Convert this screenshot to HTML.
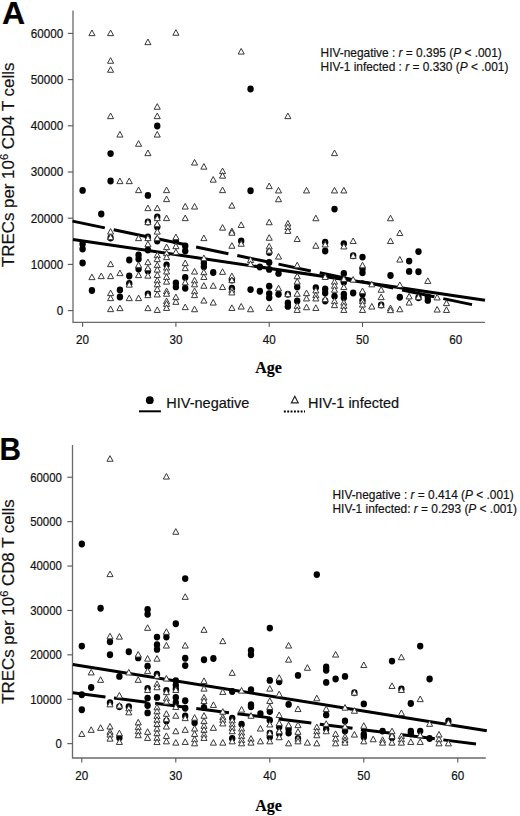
<!DOCTYPE html>
<html><head><meta charset="utf-8"><style>
html,body{margin:0;padding:0;background:#fff;}
svg{display:block;}
text{font-family:"Liberation Sans", sans-serif;fill:#111;stroke:#111;stroke-width:0.18px;}
.tk{font-size:11.4px;}
.an{font-size:11.9px;}
.lg{font-size:14.5px;}
.yl{font-size:16.9px;}
.lt{font-size:32px;font-weight:bold;fill:#000;}
.age{font-family:"Liberation Serif", serif;font-size:16px;font-weight:bold;fill:#000;}
</style></head><body>
<svg width="520" height="816" viewBox="0 0 520 816">
<rect width="520" height="816" fill="#fff"/>
<path d="M73.0 10.5V322.4H485.0" fill="none" stroke="#6a6a6a" stroke-width="1.3"/>
<line x1="67.8" y1="310.60" x2="73.0" y2="310.60" stroke="#555" stroke-width="1.1"/>
<text transform="translate(63.2 314.95) scale(1.025 1.15)" text-anchor="end" class="tk">0</text>
<line x1="67.8" y1="264.40" x2="73.0" y2="264.40" stroke="#555" stroke-width="1.1"/>
<text transform="translate(63.2 268.75) scale(1.025 1.15)" text-anchor="end" class="tk">10000</text>
<line x1="67.8" y1="218.20" x2="73.0" y2="218.20" stroke="#555" stroke-width="1.1"/>
<text transform="translate(63.2 222.55) scale(1.025 1.15)" text-anchor="end" class="tk">20000</text>
<line x1="67.8" y1="172.00" x2="73.0" y2="172.00" stroke="#555" stroke-width="1.1"/>
<text transform="translate(63.2 176.35) scale(1.025 1.15)" text-anchor="end" class="tk">30000</text>
<line x1="67.8" y1="125.80" x2="73.0" y2="125.80" stroke="#555" stroke-width="1.1"/>
<text transform="translate(63.2 130.15) scale(1.025 1.15)" text-anchor="end" class="tk">40000</text>
<line x1="67.8" y1="79.60" x2="73.0" y2="79.60" stroke="#555" stroke-width="1.1"/>
<text transform="translate(63.2 83.95) scale(1.025 1.15)" text-anchor="end" class="tk">50000</text>
<line x1="67.8" y1="33.40" x2="73.0" y2="33.40" stroke="#555" stroke-width="1.1"/>
<text transform="translate(63.2 37.75) scale(1.025 1.15)" text-anchor="end" class="tk">60000</text>
<line x1="82.60" y1="322.4" x2="82.60" y2="326.79999999999995" stroke="#555" stroke-width="1.1"/>
<text transform="translate(82.60 344.20) scale(1.025 1.15)" text-anchor="middle" class="tk">20</text>
<line x1="175.90" y1="322.4" x2="175.90" y2="326.79999999999995" stroke="#555" stroke-width="1.1"/>
<text transform="translate(175.90 344.20) scale(1.025 1.15)" text-anchor="middle" class="tk">30</text>
<line x1="269.20" y1="322.4" x2="269.20" y2="326.79999999999995" stroke="#555" stroke-width="1.1"/>
<text transform="translate(269.20 344.20) scale(1.025 1.15)" text-anchor="middle" class="tk">40</text>
<line x1="362.50" y1="322.4" x2="362.50" y2="326.79999999999995" stroke="#555" stroke-width="1.1"/>
<text transform="translate(362.50 344.20) scale(1.025 1.15)" text-anchor="middle" class="tk">50</text>
<text transform="translate(455.80 344.20) scale(1.025 1.15)" text-anchor="middle" class="tk">60</text>
<line x1="73" y1="239.4" x2="485" y2="300.2" stroke="#000" stroke-width="3"/>
<line x1="72.5" y1="221.1" x2="472" y2="304.6" stroke="#000" stroke-width="3" stroke-dasharray="33.0 9.09"/>
<ellipse cx="250.54" cy="89.0" rx="3.2" ry="3.45" fill="#000"/>
<ellipse cx="157.24" cy="126.0" rx="3.2" ry="3.45" fill="#000"/>
<ellipse cx="110.59" cy="153.6" rx="3.2" ry="3.45" fill="#000"/>
<ellipse cx="82.6" cy="190.4" rx="3.2" ry="3.45" fill="#000"/>
<ellipse cx="110.59" cy="181.0" rx="3.2" ry="3.45" fill="#000"/>
<ellipse cx="147.91" cy="195.4" rx="3.2" ry="3.45" fill="#000"/>
<ellipse cx="101.26" cy="214.0" rx="3.2" ry="3.45" fill="#000"/>
<ellipse cx="110.59" cy="238.0" rx="3.2" ry="3.45" fill="#000"/>
<ellipse cx="82.6" cy="244.0" rx="3.2" ry="3.45" fill="#000"/>
<ellipse cx="82.6" cy="249.0" rx="3.2" ry="3.45" fill="#000"/>
<ellipse cx="82.6" cy="263.0" rx="3.2" ry="3.45" fill="#000"/>
<ellipse cx="129.25" cy="260.0" rx="3.2" ry="3.45" fill="#000"/>
<ellipse cx="138.58" cy="255.0" rx="3.2" ry="3.45" fill="#000"/>
<ellipse cx="138.58" cy="259.0" rx="3.2" ry="3.45" fill="#000"/>
<ellipse cx="129.25" cy="276.0" rx="3.2" ry="3.45" fill="#000"/>
<ellipse cx="138.58" cy="269.0" rx="3.2" ry="3.45" fill="#000"/>
<ellipse cx="91.93" cy="290.5" rx="3.2" ry="3.45" fill="#000"/>
<ellipse cx="119.92" cy="290.0" rx="3.2" ry="3.45" fill="#000"/>
<ellipse cx="119.92" cy="297.0" rx="3.2" ry="3.45" fill="#000"/>
<ellipse cx="147.91" cy="222.0" rx="3.2" ry="3.45" fill="#000"/>
<ellipse cx="147.91" cy="237.0" rx="3.2" ry="3.45" fill="#000"/>
<ellipse cx="147.91" cy="250.0" rx="3.2" ry="3.45" fill="#000"/>
<ellipse cx="157.24" cy="217.0" rx="3.2" ry="3.45" fill="#000"/>
<ellipse cx="157.24" cy="227.0" rx="3.2" ry="3.45" fill="#000"/>
<ellipse cx="157.24" cy="241.0" rx="3.2" ry="3.45" fill="#000"/>
<ellipse cx="166.57" cy="265.0" rx="3.2" ry="3.45" fill="#000"/>
<ellipse cx="175.9" cy="241.0" rx="3.2" ry="3.45" fill="#000"/>
<ellipse cx="185.23" cy="246.0" rx="3.2" ry="3.45" fill="#000"/>
<ellipse cx="185.23" cy="251.0" rx="3.2" ry="3.45" fill="#000"/>
<ellipse cx="203.89" cy="263.0" rx="3.2" ry="3.45" fill="#000"/>
<ellipse cx="147.91" cy="271.0" rx="3.2" ry="3.45" fill="#000"/>
<ellipse cx="147.91" cy="294.0" rx="3.2" ry="3.45" fill="#000"/>
<ellipse cx="175.9" cy="282.9" rx="3.2" ry="3.45" fill="#000"/>
<ellipse cx="175.9" cy="286.9" rx="3.2" ry="3.45" fill="#000"/>
<ellipse cx="185.23" cy="277.5" rx="3.2" ry="3.45" fill="#000"/>
<ellipse cx="185.23" cy="288.2" rx="3.2" ry="3.45" fill="#000"/>
<ellipse cx="203.89" cy="266.7" rx="3.2" ry="3.45" fill="#000"/>
<ellipse cx="250.54" cy="190.7" rx="3.2" ry="3.45" fill="#000"/>
<ellipse cx="241.21" cy="240.9" rx="3.2" ry="3.45" fill="#000"/>
<ellipse cx="269.2" cy="252.5" rx="3.2" ry="3.45" fill="#000"/>
<ellipse cx="269.2" cy="262.5" rx="3.2" ry="3.45" fill="#000"/>
<ellipse cx="213.22" cy="272.5" rx="3.2" ry="3.45" fill="#000"/>
<ellipse cx="231.88" cy="280.0" rx="3.2" ry="3.45" fill="#000"/>
<ellipse cx="231.88" cy="288.2" rx="3.2" ry="3.45" fill="#000"/>
<ellipse cx="250.54" cy="289.6" rx="3.2" ry="3.45" fill="#000"/>
<ellipse cx="259.87" cy="291.3" rx="3.2" ry="3.45" fill="#000"/>
<ellipse cx="269.2" cy="286.2" rx="3.2" ry="3.45" fill="#000"/>
<ellipse cx="269.2" cy="293.6" rx="3.2" ry="3.45" fill="#000"/>
<ellipse cx="269.2" cy="297.7" rx="3.2" ry="3.45" fill="#000"/>
<ellipse cx="259.87" cy="267.0" rx="3.2" ry="3.45" fill="#000"/>
<ellipse cx="269.2" cy="269.4" rx="3.2" ry="3.45" fill="#000"/>
<ellipse cx="334.51" cy="209.1" rx="3.2" ry="3.45" fill="#000"/>
<ellipse cx="325.18" cy="242.3" rx="3.2" ry="3.45" fill="#000"/>
<ellipse cx="325.18" cy="251.0" rx="3.2" ry="3.45" fill="#000"/>
<ellipse cx="343.84" cy="243.6" rx="3.2" ry="3.45" fill="#000"/>
<ellipse cx="278.53" cy="273.4" rx="3.2" ry="3.45" fill="#000"/>
<ellipse cx="297.19" cy="286.9" rx="3.2" ry="3.45" fill="#000"/>
<ellipse cx="297.19" cy="301.0" rx="3.2" ry="3.45" fill="#000"/>
<ellipse cx="278.53" cy="294.3" rx="3.2" ry="3.45" fill="#000"/>
<ellipse cx="287.86" cy="294.3" rx="3.2" ry="3.45" fill="#000"/>
<ellipse cx="287.86" cy="303.0" rx="3.2" ry="3.45" fill="#000"/>
<ellipse cx="287.86" cy="306.4" rx="3.2" ry="3.45" fill="#000"/>
<ellipse cx="315.85" cy="287.6" rx="3.2" ry="3.45" fill="#000"/>
<ellipse cx="325.18" cy="288.9" rx="3.2" ry="3.45" fill="#000"/>
<ellipse cx="325.18" cy="293.0" rx="3.2" ry="3.45" fill="#000"/>
<ellipse cx="325.18" cy="301.0" rx="3.2" ry="3.45" fill="#000"/>
<ellipse cx="334.51" cy="296.3" rx="3.2" ry="3.45" fill="#000"/>
<ellipse cx="353.17" cy="255.7" rx="3.2" ry="3.45" fill="#000"/>
<ellipse cx="362.5" cy="257.1" rx="3.2" ry="3.45" fill="#000"/>
<ellipse cx="409.15" cy="261.1" rx="3.2" ry="3.45" fill="#000"/>
<ellipse cx="362.5" cy="268.7" rx="3.2" ry="3.45" fill="#000"/>
<ellipse cx="362.5" cy="272.8" rx="3.2" ry="3.45" fill="#000"/>
<ellipse cx="343.84" cy="273.4" rx="3.2" ry="3.45" fill="#000"/>
<ellipse cx="343.84" cy="282.2" rx="3.2" ry="3.45" fill="#000"/>
<ellipse cx="353.17" cy="293.0" rx="3.2" ry="3.45" fill="#000"/>
<ellipse cx="390.49" cy="275.5" rx="3.2" ry="3.45" fill="#000"/>
<ellipse cx="362.5" cy="294.3" rx="3.2" ry="3.45" fill="#000"/>
<ellipse cx="343.84" cy="294.3" rx="3.2" ry="3.45" fill="#000"/>
<ellipse cx="343.84" cy="297.7" rx="3.2" ry="3.45" fill="#000"/>
<ellipse cx="381.16" cy="305.0" rx="3.2" ry="3.45" fill="#000"/>
<ellipse cx="399.82" cy="297.3" rx="3.2" ry="3.45" fill="#000"/>
<ellipse cx="409.15" cy="271.4" rx="3.2" ry="3.45" fill="#000"/>
<ellipse cx="418.48" cy="251.6" rx="3.2" ry="3.45" fill="#000"/>
<ellipse cx="418.48" cy="271.7" rx="3.2" ry="3.45" fill="#000"/>
<ellipse cx="418.48" cy="297.7" rx="3.2" ry="3.45" fill="#000"/>
<ellipse cx="427.81" cy="297.0" rx="3.2" ry="3.45" fill="#000"/>
<ellipse cx="427.81" cy="300.4" rx="3.2" ry="3.45" fill="#000"/>
<ellipse cx="129.25" cy="283.5" rx="3.2" ry="3.45" fill="#000"/>
<ellipse cx="362.5" cy="300.5" rx="3.2" ry="3.45" fill="#000"/>
<path d="M91.93 30.05L94.98 35.65H88.88Z" fill="#fff" stroke="#383838" stroke-width="1.0" stroke-linejoin="miter"/>
<path d="M110.59 30.05L113.64 35.65H107.54Z" fill="#fff" stroke="#383838" stroke-width="1.0" stroke-linejoin="miter"/>
<path d="M147.91 39.05L150.96 44.65H144.86Z" fill="#fff" stroke="#383838" stroke-width="1.0" stroke-linejoin="miter"/>
<path d="M110.59 57.65L113.64 63.25H107.54Z" fill="#fff" stroke="#383838" stroke-width="1.0" stroke-linejoin="miter"/>
<path d="M110.59 66.65L113.64 72.25H107.54Z" fill="#fff" stroke="#383838" stroke-width="1.0" stroke-linejoin="miter"/>
<path d="M175.9 29.65L178.95 35.25H172.85Z" fill="#fff" stroke="#383838" stroke-width="1.0" stroke-linejoin="miter"/>
<path d="M241.21 48.45L244.26 54.05H238.16Z" fill="#fff" stroke="#383838" stroke-width="1.0" stroke-linejoin="miter"/>
<path d="M110.59 113.05L113.64 118.65H107.54Z" fill="#fff" stroke="#383838" stroke-width="1.0" stroke-linejoin="miter"/>
<path d="M157.24 103.65L160.29 109.25H154.19Z" fill="#fff" stroke="#383838" stroke-width="1.0" stroke-linejoin="miter"/>
<path d="M157.24 113.05L160.29 118.65H154.19Z" fill="#fff" stroke="#383838" stroke-width="1.0" stroke-linejoin="miter"/>
<path d="M157.24 131.45L160.29 137.05H154.19Z" fill="#fff" stroke="#383838" stroke-width="1.0" stroke-linejoin="miter"/>
<path d="M119.92 131.45L122.97 137.05H116.87Z" fill="#fff" stroke="#383838" stroke-width="1.0" stroke-linejoin="miter"/>
<path d="M138.58 140.65L141.63 146.25H135.53Z" fill="#fff" stroke="#383838" stroke-width="1.0" stroke-linejoin="miter"/>
<path d="M147.91 150.05L150.96 155.65H144.86Z" fill="#fff" stroke="#383838" stroke-width="1.0" stroke-linejoin="miter"/>
<path d="M287.86 113.05L290.91 118.65H284.81Z" fill="#fff" stroke="#383838" stroke-width="1.0" stroke-linejoin="miter"/>
<path d="M334.51 150.05L337.56 155.65H331.46Z" fill="#fff" stroke="#383838" stroke-width="1.0" stroke-linejoin="miter"/>
<path d="M119.92 178.05L122.97 183.65H116.87Z" fill="#fff" stroke="#383838" stroke-width="1.0" stroke-linejoin="miter"/>
<path d="M129.25 178.05L132.30 183.65H126.20Z" fill="#fff" stroke="#383838" stroke-width="1.0" stroke-linejoin="miter"/>
<path d="M138.58 187.05L141.63 192.65H135.53Z" fill="#fff" stroke="#383838" stroke-width="1.0" stroke-linejoin="miter"/>
<path d="M166.57 187.05L169.62 192.65H163.52Z" fill="#fff" stroke="#383838" stroke-width="1.0" stroke-linejoin="miter"/>
<path d="M166.57 196.05L169.62 201.65H163.52Z" fill="#fff" stroke="#383838" stroke-width="1.0" stroke-linejoin="miter"/>
<path d="M147.91 205.05L150.96 210.65H144.86Z" fill="#fff" stroke="#383838" stroke-width="1.0" stroke-linejoin="miter"/>
<path d="M157.24 205.05L160.29 210.65H154.19Z" fill="#fff" stroke="#383838" stroke-width="1.0" stroke-linejoin="miter"/>
<path d="M166.57 215.05L169.62 220.65H163.52Z" fill="#fff" stroke="#383838" stroke-width="1.0" stroke-linejoin="miter"/>
<path d="M194.56 159.45L197.61 165.05H191.51Z" fill="#fff" stroke="#383838" stroke-width="1.0" stroke-linejoin="miter"/>
<path d="M203.89 163.55L206.94 169.15H200.84Z" fill="#fff" stroke="#383838" stroke-width="1.0" stroke-linejoin="miter"/>
<path d="M185.23 203.45L188.28 209.05H182.18Z" fill="#fff" stroke="#383838" stroke-width="1.0" stroke-linejoin="miter"/>
<path d="M194.56 203.45L197.61 209.05H191.51Z" fill="#fff" stroke="#383838" stroke-width="1.0" stroke-linejoin="miter"/>
<path d="M110.59 228.55L113.64 234.15H107.54Z" fill="#fff" stroke="#383838" stroke-width="1.0" stroke-linejoin="miter"/>
<path d="M110.59 234.05L113.64 239.65H107.54Z" fill="#fff" stroke="#383838" stroke-width="1.0" stroke-linejoin="miter"/>
<path d="M138.58 235.05L141.63 240.65H135.53Z" fill="#fff" stroke="#383838" stroke-width="1.0" stroke-linejoin="miter"/>
<path d="M110.59 261.05L113.64 266.65H107.54Z" fill="#fff" stroke="#383838" stroke-width="1.0" stroke-linejoin="miter"/>
<path d="M138.58 262.05L141.63 267.65H135.53Z" fill="#fff" stroke="#383838" stroke-width="1.0" stroke-linejoin="miter"/>
<path d="M91.93 274.05L94.98 279.65H88.88Z" fill="#fff" stroke="#383838" stroke-width="1.0" stroke-linejoin="miter"/>
<path d="M101.26 273.05L104.31 278.65H98.21Z" fill="#fff" stroke="#383838" stroke-width="1.0" stroke-linejoin="miter"/>
<path d="M110.59 273.05L113.64 278.65H107.54Z" fill="#fff" stroke="#383838" stroke-width="1.0" stroke-linejoin="miter"/>
<path d="M119.92 270.05L122.97 275.65H116.87Z" fill="#fff" stroke="#383838" stroke-width="1.0" stroke-linejoin="miter"/>
<path d="M129.25 281.55L132.30 287.15H126.20Z" fill="#fff" stroke="#383838" stroke-width="1.0" stroke-linejoin="miter"/>
<path d="M138.58 272.05L141.63 277.65H135.53Z" fill="#fff" stroke="#383838" stroke-width="1.0" stroke-linejoin="miter"/>
<path d="M110.59 290.05L113.64 295.65H107.54Z" fill="#fff" stroke="#383838" stroke-width="1.0" stroke-linejoin="miter"/>
<path d="M110.59 295.05L113.64 300.65H107.54Z" fill="#fff" stroke="#383838" stroke-width="1.0" stroke-linejoin="miter"/>
<path d="M129.25 295.05L132.30 300.65H126.20Z" fill="#fff" stroke="#383838" stroke-width="1.0" stroke-linejoin="miter"/>
<path d="M138.58 295.05L141.63 300.65H135.53Z" fill="#fff" stroke="#383838" stroke-width="1.0" stroke-linejoin="miter"/>
<path d="M110.59 306.05L113.64 311.65H107.54Z" fill="#fff" stroke="#383838" stroke-width="1.0" stroke-linejoin="miter"/>
<path d="M119.92 305.05L122.97 310.65H116.87Z" fill="#fff" stroke="#383838" stroke-width="1.0" stroke-linejoin="miter"/>
<path d="M147.91 219.05L150.96 224.65H144.86Z" fill="#fff" stroke="#383838" stroke-width="1.0" stroke-linejoin="miter"/>
<path d="M147.91 235.05L150.96 240.65H144.86Z" fill="#fff" stroke="#383838" stroke-width="1.0" stroke-linejoin="miter"/>
<path d="M147.91 241.05L150.96 246.65H144.86Z" fill="#fff" stroke="#383838" stroke-width="1.0" stroke-linejoin="miter"/>
<path d="M147.91 259.05L150.96 264.65H144.86Z" fill="#fff" stroke="#383838" stroke-width="1.0" stroke-linejoin="miter"/>
<path d="M157.24 215.05L160.29 220.65H154.19Z" fill="#fff" stroke="#383838" stroke-width="1.0" stroke-linejoin="miter"/>
<path d="M157.24 221.05L160.29 226.65H154.19Z" fill="#fff" stroke="#383838" stroke-width="1.0" stroke-linejoin="miter"/>
<path d="M157.24 228.55L160.29 234.15H154.19Z" fill="#fff" stroke="#383838" stroke-width="1.0" stroke-linejoin="miter"/>
<path d="M157.24 235.05L160.29 240.65H154.19Z" fill="#fff" stroke="#383838" stroke-width="1.0" stroke-linejoin="miter"/>
<path d="M157.24 252.05L160.29 257.65H154.19Z" fill="#fff" stroke="#383838" stroke-width="1.0" stroke-linejoin="miter"/>
<path d="M157.24 256.05L160.29 261.65H154.19Z" fill="#fff" stroke="#383838" stroke-width="1.0" stroke-linejoin="miter"/>
<path d="M157.24 262.05L160.29 267.65H154.19Z" fill="#fff" stroke="#383838" stroke-width="1.0" stroke-linejoin="miter"/>
<path d="M166.57 244.05L169.62 249.65H163.52Z" fill="#fff" stroke="#383838" stroke-width="1.0" stroke-linejoin="miter"/>
<path d="M166.57 250.05L169.62 255.65H163.52Z" fill="#fff" stroke="#383838" stroke-width="1.0" stroke-linejoin="miter"/>
<path d="M166.57 254.05L169.62 259.65H163.52Z" fill="#fff" stroke="#383838" stroke-width="1.0" stroke-linejoin="miter"/>
<path d="M175.9 234.05L178.95 239.65H172.85Z" fill="#fff" stroke="#383838" stroke-width="1.0" stroke-linejoin="miter"/>
<path d="M175.9 243.05L178.95 248.65H172.85Z" fill="#fff" stroke="#383838" stroke-width="1.0" stroke-linejoin="miter"/>
<path d="M175.9 249.05L178.95 254.65H172.85Z" fill="#fff" stroke="#383838" stroke-width="1.0" stroke-linejoin="miter"/>
<path d="M185.23 215.05L188.28 220.65H182.18Z" fill="#fff" stroke="#383838" stroke-width="1.0" stroke-linejoin="miter"/>
<path d="M185.23 260.05L188.28 265.65H182.18Z" fill="#fff" stroke="#383838" stroke-width="1.0" stroke-linejoin="miter"/>
<path d="M203.89 235.05L206.94 240.65H200.84Z" fill="#fff" stroke="#383838" stroke-width="1.0" stroke-linejoin="miter"/>
<path d="M203.89 255.05L206.94 260.65H200.84Z" fill="#fff" stroke="#383838" stroke-width="1.0" stroke-linejoin="miter"/>
<path d="M147.91 265.05L150.96 270.65H144.86Z" fill="#fff" stroke="#383838" stroke-width="1.0" stroke-linejoin="miter"/>
<path d="M147.91 272.55L150.96 278.15H144.86Z" fill="#fff" stroke="#383838" stroke-width="1.0" stroke-linejoin="miter"/>
<path d="M147.91 292.05L150.96 297.65H144.86Z" fill="#fff" stroke="#383838" stroke-width="1.0" stroke-linejoin="miter"/>
<path d="M147.91 305.05L150.96 310.65H144.86Z" fill="#fff" stroke="#383838" stroke-width="1.0" stroke-linejoin="miter"/>
<path d="M157.24 266.55L160.29 272.15H154.19Z" fill="#fff" stroke="#383838" stroke-width="1.0" stroke-linejoin="miter"/>
<path d="M157.24 271.85L160.29 277.45H154.19Z" fill="#fff" stroke="#383838" stroke-width="1.0" stroke-linejoin="miter"/>
<path d="M157.24 277.25L160.29 282.85H154.19Z" fill="#fff" stroke="#383838" stroke-width="1.0" stroke-linejoin="miter"/>
<path d="M157.24 281.25L160.29 286.85H154.19Z" fill="#fff" stroke="#383838" stroke-width="1.0" stroke-linejoin="miter"/>
<path d="M157.24 285.95L160.29 291.55H154.19Z" fill="#fff" stroke="#383838" stroke-width="1.0" stroke-linejoin="miter"/>
<path d="M157.24 291.35L160.29 296.95H154.19Z" fill="#fff" stroke="#383838" stroke-width="1.0" stroke-linejoin="miter"/>
<path d="M157.24 306.85L160.29 312.45H154.19Z" fill="#fff" stroke="#383838" stroke-width="1.0" stroke-linejoin="miter"/>
<path d="M166.57 264.45L169.62 270.05H163.52Z" fill="#fff" stroke="#383838" stroke-width="1.0" stroke-linejoin="miter"/>
<path d="M166.57 268.45L169.62 274.05H163.52Z" fill="#fff" stroke="#383838" stroke-width="1.0" stroke-linejoin="miter"/>
<path d="M166.57 273.85L169.62 279.45H163.52Z" fill="#fff" stroke="#383838" stroke-width="1.0" stroke-linejoin="miter"/>
<path d="M166.57 278.55L169.62 284.15H163.52Z" fill="#fff" stroke="#383838" stroke-width="1.0" stroke-linejoin="miter"/>
<path d="M166.57 288.05L169.62 293.65H163.52Z" fill="#fff" stroke="#383838" stroke-width="1.0" stroke-linejoin="miter"/>
<path d="M166.57 290.65L169.62 296.25H163.52Z" fill="#fff" stroke="#383838" stroke-width="1.0" stroke-linejoin="miter"/>
<path d="M166.57 298.05L169.62 303.65H163.52Z" fill="#fff" stroke="#383838" stroke-width="1.0" stroke-linejoin="miter"/>
<path d="M166.57 300.75L169.62 306.35H163.52Z" fill="#fff" stroke="#383838" stroke-width="1.0" stroke-linejoin="miter"/>
<path d="M166.57 304.85L169.62 310.45H163.52Z" fill="#fff" stroke="#383838" stroke-width="1.0" stroke-linejoin="miter"/>
<path d="M175.9 294.05L178.95 299.65H172.85Z" fill="#fff" stroke="#383838" stroke-width="1.0" stroke-linejoin="miter"/>
<path d="M175.9 298.75L178.95 304.35H172.85Z" fill="#fff" stroke="#383838" stroke-width="1.0" stroke-linejoin="miter"/>
<path d="M185.23 265.05L188.28 270.65H182.18Z" fill="#fff" stroke="#383838" stroke-width="1.0" stroke-linejoin="miter"/>
<path d="M185.23 279.25L188.28 284.85H182.18Z" fill="#fff" stroke="#383838" stroke-width="1.0" stroke-linejoin="miter"/>
<path d="M185.23 304.05L188.28 309.65H182.18Z" fill="#fff" stroke="#383838" stroke-width="1.0" stroke-linejoin="miter"/>
<path d="M194.56 268.45L197.61 274.05H191.51Z" fill="#fff" stroke="#383838" stroke-width="1.0" stroke-linejoin="miter"/>
<path d="M194.56 277.25L197.61 282.85H191.51Z" fill="#fff" stroke="#383838" stroke-width="1.0" stroke-linejoin="miter"/>
<path d="M194.56 281.25L197.61 286.85H191.51Z" fill="#fff" stroke="#383838" stroke-width="1.0" stroke-linejoin="miter"/>
<path d="M194.56 288.05L197.61 293.65H191.51Z" fill="#fff" stroke="#383838" stroke-width="1.0" stroke-linejoin="miter"/>
<path d="M194.56 292.05L197.61 297.65H191.51Z" fill="#fff" stroke="#383838" stroke-width="1.0" stroke-linejoin="miter"/>
<path d="M194.56 306.15L197.61 311.75H191.51Z" fill="#fff" stroke="#383838" stroke-width="1.0" stroke-linejoin="miter"/>
<path d="M203.89 269.15L206.94 274.75H200.84Z" fill="#fff" stroke="#383838" stroke-width="1.0" stroke-linejoin="miter"/>
<path d="M203.89 273.85L206.94 279.45H200.84Z" fill="#fff" stroke="#383838" stroke-width="1.0" stroke-linejoin="miter"/>
<path d="M203.89 282.65L206.94 288.25H200.84Z" fill="#fff" stroke="#383838" stroke-width="1.0" stroke-linejoin="miter"/>
<path d="M203.89 297.45L206.94 303.05H200.84Z" fill="#fff" stroke="#383838" stroke-width="1.0" stroke-linejoin="miter"/>
<path d="M213.22 176.55L216.27 182.15H210.17Z" fill="#fff" stroke="#383838" stroke-width="1.0" stroke-linejoin="miter"/>
<path d="M222.55 168.05L225.60 173.65H219.50Z" fill="#fff" stroke="#383838" stroke-width="1.0" stroke-linejoin="miter"/>
<path d="M222.55 172.55L225.60 178.15H219.50Z" fill="#fff" stroke="#383838" stroke-width="1.0" stroke-linejoin="miter"/>
<path d="M222.55 187.05L225.60 192.65H219.50Z" fill="#fff" stroke="#383838" stroke-width="1.0" stroke-linejoin="miter"/>
<path d="M231.88 202.55L234.93 208.15H228.83Z" fill="#fff" stroke="#383838" stroke-width="1.0" stroke-linejoin="miter"/>
<path d="M269.2 183.05L272.25 188.65H266.15Z" fill="#fff" stroke="#383838" stroke-width="1.0" stroke-linejoin="miter"/>
<path d="M222.55 224.55L225.60 230.15H219.50Z" fill="#fff" stroke="#383838" stroke-width="1.0" stroke-linejoin="miter"/>
<path d="M231.88 228.05L234.93 233.65H228.83Z" fill="#fff" stroke="#383838" stroke-width="1.0" stroke-linejoin="miter"/>
<path d="M231.88 229.65L234.93 235.25H228.83Z" fill="#fff" stroke="#383838" stroke-width="1.0" stroke-linejoin="miter"/>
<path d="M241.21 221.85L244.26 227.45H238.16Z" fill="#fff" stroke="#383838" stroke-width="1.0" stroke-linejoin="miter"/>
<path d="M241.21 240.65L244.26 246.25H238.16Z" fill="#fff" stroke="#383838" stroke-width="1.0" stroke-linejoin="miter"/>
<path d="M231.88 242.65L234.93 248.25H228.83Z" fill="#fff" stroke="#383838" stroke-width="1.0" stroke-linejoin="miter"/>
<path d="M269.2 219.15L272.25 224.75H266.15Z" fill="#fff" stroke="#383838" stroke-width="1.0" stroke-linejoin="miter"/>
<path d="M269.2 234.65L272.25 240.25H266.15Z" fill="#fff" stroke="#383838" stroke-width="1.0" stroke-linejoin="miter"/>
<path d="M269.2 243.35L272.25 248.95H266.15Z" fill="#fff" stroke="#383838" stroke-width="1.0" stroke-linejoin="miter"/>
<path d="M269.2 247.55L272.25 253.15H266.15Z" fill="#fff" stroke="#383838" stroke-width="1.0" stroke-linejoin="miter"/>
<path d="M250.54 256.85L253.59 262.45H247.49Z" fill="#fff" stroke="#383838" stroke-width="1.0" stroke-linejoin="miter"/>
<path d="M250.54 260.85L253.59 266.45H247.49Z" fill="#fff" stroke="#383838" stroke-width="1.0" stroke-linejoin="miter"/>
<path d="M222.55 268.75L225.60 274.35H219.50Z" fill="#fff" stroke="#383838" stroke-width="1.0" stroke-linejoin="miter"/>
<path d="M231.88 273.05L234.93 278.65H228.83Z" fill="#fff" stroke="#383838" stroke-width="1.0" stroke-linejoin="miter"/>
<path d="M231.88 277.05L234.93 282.65H228.83Z" fill="#fff" stroke="#383838" stroke-width="1.0" stroke-linejoin="miter"/>
<path d="M213.22 282.65L216.27 288.25H210.17Z" fill="#fff" stroke="#383838" stroke-width="1.0" stroke-linejoin="miter"/>
<path d="M222.55 283.95L225.60 289.55H219.50Z" fill="#fff" stroke="#383838" stroke-width="1.0" stroke-linejoin="miter"/>
<path d="M231.88 286.65L234.93 292.25H228.83Z" fill="#fff" stroke="#383838" stroke-width="1.0" stroke-linejoin="miter"/>
<path d="M231.88 289.35L234.93 294.95H228.83Z" fill="#fff" stroke="#383838" stroke-width="1.0" stroke-linejoin="miter"/>
<path d="M213.22 299.45L216.27 305.05H210.17Z" fill="#fff" stroke="#383838" stroke-width="1.0" stroke-linejoin="miter"/>
<path d="M231.88 304.85L234.93 310.45H228.83Z" fill="#fff" stroke="#383838" stroke-width="1.0" stroke-linejoin="miter"/>
<path d="M241.21 303.45L244.26 309.05H238.16Z" fill="#fff" stroke="#383838" stroke-width="1.0" stroke-linejoin="miter"/>
<path d="M250.54 306.15L253.59 311.75H247.49Z" fill="#fff" stroke="#383838" stroke-width="1.0" stroke-linejoin="miter"/>
<path d="M269.2 304.85L272.25 310.45H266.15Z" fill="#fff" stroke="#383838" stroke-width="1.0" stroke-linejoin="miter"/>
<path d="M278.53 187.35L281.58 192.95H275.48Z" fill="#fff" stroke="#383838" stroke-width="1.0" stroke-linejoin="miter"/>
<path d="M278.53 196.15L281.58 201.75H275.48Z" fill="#fff" stroke="#383838" stroke-width="1.0" stroke-linejoin="miter"/>
<path d="M306.52 187.35L309.57 192.95H303.47Z" fill="#fff" stroke="#383838" stroke-width="1.0" stroke-linejoin="miter"/>
<path d="M334.51 187.35L337.56 192.95H331.46Z" fill="#fff" stroke="#383838" stroke-width="1.0" stroke-linejoin="miter"/>
<path d="M343.84 187.35L346.89 192.95H340.79Z" fill="#fff" stroke="#383838" stroke-width="1.0" stroke-linejoin="miter"/>
<path d="M287.86 220.45L290.91 226.05H284.81Z" fill="#fff" stroke="#383838" stroke-width="1.0" stroke-linejoin="miter"/>
<path d="M287.86 223.85L290.91 229.45H284.81Z" fill="#fff" stroke="#383838" stroke-width="1.0" stroke-linejoin="miter"/>
<path d="M287.86 227.85L290.91 233.45H284.81Z" fill="#fff" stroke="#383838" stroke-width="1.0" stroke-linejoin="miter"/>
<path d="M315.85 215.15L318.90 220.75H312.80Z" fill="#fff" stroke="#383838" stroke-width="1.0" stroke-linejoin="miter"/>
<path d="M297.19 235.95L300.24 241.55H294.14Z" fill="#fff" stroke="#383838" stroke-width="1.0" stroke-linejoin="miter"/>
<path d="M315.85 242.65L318.90 248.25H312.80Z" fill="#fff" stroke="#383838" stroke-width="1.0" stroke-linejoin="miter"/>
<path d="M325.18 241.35L328.23 246.95H322.13Z" fill="#fff" stroke="#383838" stroke-width="1.0" stroke-linejoin="miter"/>
<path d="M343.84 243.35L346.89 248.95H340.79Z" fill="#fff" stroke="#383838" stroke-width="1.0" stroke-linejoin="miter"/>
<path d="M278.53 253.45L281.58 259.05H275.48Z" fill="#fff" stroke="#383838" stroke-width="1.0" stroke-linejoin="miter"/>
<path d="M297.19 262.25L300.24 267.85H294.14Z" fill="#fff" stroke="#383838" stroke-width="1.0" stroke-linejoin="miter"/>
<path d="M297.19 273.15L300.24 278.75H294.14Z" fill="#fff" stroke="#383838" stroke-width="1.0" stroke-linejoin="miter"/>
<path d="M297.19 278.55L300.24 284.15H294.14Z" fill="#fff" stroke="#383838" stroke-width="1.0" stroke-linejoin="miter"/>
<path d="M297.19 290.65L300.24 296.25H294.14Z" fill="#fff" stroke="#383838" stroke-width="1.0" stroke-linejoin="miter"/>
<path d="M297.19 302.75L300.24 308.35H294.14Z" fill="#fff" stroke="#383838" stroke-width="1.0" stroke-linejoin="miter"/>
<path d="M297.19 306.85L300.24 312.45H294.14Z" fill="#fff" stroke="#383838" stroke-width="1.0" stroke-linejoin="miter"/>
<path d="M278.53 285.25L281.58 290.85H275.48Z" fill="#fff" stroke="#383838" stroke-width="1.0" stroke-linejoin="miter"/>
<path d="M287.86 291.05L290.91 296.65H284.81Z" fill="#fff" stroke="#383838" stroke-width="1.0" stroke-linejoin="miter"/>
<path d="M306.52 290.05L309.57 295.65H303.47Z" fill="#fff" stroke="#383838" stroke-width="1.0" stroke-linejoin="miter"/>
<path d="M306.52 295.35L309.57 300.95H303.47Z" fill="#fff" stroke="#383838" stroke-width="1.0" stroke-linejoin="miter"/>
<path d="M306.52 304.15L309.57 309.75H303.47Z" fill="#fff" stroke="#383838" stroke-width="1.0" stroke-linejoin="miter"/>
<path d="M315.85 287.35L318.90 292.95H312.80Z" fill="#fff" stroke="#383838" stroke-width="1.0" stroke-linejoin="miter"/>
<path d="M315.85 292.05L318.90 297.65H312.80Z" fill="#fff" stroke="#383838" stroke-width="1.0" stroke-linejoin="miter"/>
<path d="M315.85 295.35L318.90 300.95H312.80Z" fill="#fff" stroke="#383838" stroke-width="1.0" stroke-linejoin="miter"/>
<path d="M315.85 304.85L318.90 310.45H312.80Z" fill="#fff" stroke="#383838" stroke-width="1.0" stroke-linejoin="miter"/>
<path d="M325.18 296.05L328.23 301.65H322.13Z" fill="#fff" stroke="#383838" stroke-width="1.0" stroke-linejoin="miter"/>
<path d="M325.18 273.85L328.23 279.45H322.13Z" fill="#fff" stroke="#383838" stroke-width="1.0" stroke-linejoin="miter"/>
<path d="M334.51 278.55L337.56 284.15H331.46Z" fill="#fff" stroke="#383838" stroke-width="1.0" stroke-linejoin="miter"/>
<path d="M334.51 282.65L337.56 288.25H331.46Z" fill="#fff" stroke="#383838" stroke-width="1.0" stroke-linejoin="miter"/>
<path d="M334.51 286.65L337.56 292.25H331.46Z" fill="#fff" stroke="#383838" stroke-width="1.0" stroke-linejoin="miter"/>
<path d="M334.51 298.05L337.56 303.65H331.46Z" fill="#fff" stroke="#383838" stroke-width="1.0" stroke-linejoin="miter"/>
<path d="M334.51 302.05L337.56 307.65H331.46Z" fill="#fff" stroke="#383838" stroke-width="1.0" stroke-linejoin="miter"/>
<path d="M353.17 237.95L356.22 243.55H350.12Z" fill="#fff" stroke="#383838" stroke-width="1.0" stroke-linejoin="miter"/>
<path d="M390.49 215.15L393.54 220.75H387.44Z" fill="#fff" stroke="#383838" stroke-width="1.0" stroke-linejoin="miter"/>
<path d="M399.82 229.95L402.87 235.55H396.77Z" fill="#fff" stroke="#383838" stroke-width="1.0" stroke-linejoin="miter"/>
<path d="M390.49 237.95L393.54 243.55H387.44Z" fill="#fff" stroke="#383838" stroke-width="1.0" stroke-linejoin="miter"/>
<path d="M353.17 252.75L356.22 258.35H350.12Z" fill="#fff" stroke="#383838" stroke-width="1.0" stroke-linejoin="miter"/>
<path d="M362.5 262.25L365.55 267.85H359.45Z" fill="#fff" stroke="#383838" stroke-width="1.0" stroke-linejoin="miter"/>
<path d="M399.82 256.45L402.87 262.05H396.77Z" fill="#fff" stroke="#383838" stroke-width="1.0" stroke-linejoin="miter"/>
<path d="M343.84 275.85L346.89 281.45H340.79Z" fill="#fff" stroke="#383838" stroke-width="1.0" stroke-linejoin="miter"/>
<path d="M343.84 283.95L346.89 289.55H340.79Z" fill="#fff" stroke="#383838" stroke-width="1.0" stroke-linejoin="miter"/>
<path d="M353.17 276.55L356.22 282.15H350.12Z" fill="#fff" stroke="#383838" stroke-width="1.0" stroke-linejoin="miter"/>
<path d="M371.83 281.25L374.88 286.85H368.78Z" fill="#fff" stroke="#383838" stroke-width="1.0" stroke-linejoin="miter"/>
<path d="M399.82 281.95L402.87 287.55H396.77Z" fill="#fff" stroke="#383838" stroke-width="1.0" stroke-linejoin="miter"/>
<path d="M362.5 288.05L365.55 293.65H359.45Z" fill="#fff" stroke="#383838" stroke-width="1.0" stroke-linejoin="miter"/>
<path d="M362.5 298.05L365.55 303.65H359.45Z" fill="#fff" stroke="#383838" stroke-width="1.0" stroke-linejoin="miter"/>
<path d="M362.5 301.45L365.55 307.05H359.45Z" fill="#fff" stroke="#383838" stroke-width="1.0" stroke-linejoin="miter"/>
<path d="M362.5 306.85L365.55 312.45H359.45Z" fill="#fff" stroke="#383838" stroke-width="1.0" stroke-linejoin="miter"/>
<path d="M343.84 299.45L346.89 305.05H340.79Z" fill="#fff" stroke="#383838" stroke-width="1.0" stroke-linejoin="miter"/>
<path d="M343.84 302.75L346.89 308.35H340.79Z" fill="#fff" stroke="#383838" stroke-width="1.0" stroke-linejoin="miter"/>
<path d="M343.84 306.85L346.89 312.45H340.79Z" fill="#fff" stroke="#383838" stroke-width="1.0" stroke-linejoin="miter"/>
<path d="M381.16 286.65L384.21 292.25H378.11Z" fill="#fff" stroke="#383838" stroke-width="1.0" stroke-linejoin="miter"/>
<path d="M381.16 294.05L384.21 299.65H378.11Z" fill="#fff" stroke="#383838" stroke-width="1.0" stroke-linejoin="miter"/>
<path d="M381.16 302.05L384.21 307.65H378.11Z" fill="#fff" stroke="#383838" stroke-width="1.0" stroke-linejoin="miter"/>
<path d="M371.83 303.45L374.88 309.05H368.78Z" fill="#fff" stroke="#383838" stroke-width="1.0" stroke-linejoin="miter"/>
<path d="M390.49 305.05L393.54 310.65H387.44Z" fill="#fff" stroke="#383838" stroke-width="1.0" stroke-linejoin="miter"/>
<path d="M390.49 307.05L393.54 312.65H387.44Z" fill="#fff" stroke="#383838" stroke-width="1.0" stroke-linejoin="miter"/>
<path d="M399.82 306.15L402.87 311.75H396.77Z" fill="#fff" stroke="#383838" stroke-width="1.0" stroke-linejoin="miter"/>
<path d="M409.15 293.35L412.20 298.95H406.10Z" fill="#fff" stroke="#383838" stroke-width="1.0" stroke-linejoin="miter"/>
<path d="M409.15 299.45L412.20 305.05H406.10Z" fill="#fff" stroke="#383838" stroke-width="1.0" stroke-linejoin="miter"/>
<path d="M427.81 277.85L430.86 283.45H424.76Z" fill="#fff" stroke="#383838" stroke-width="1.0" stroke-linejoin="miter"/>
<path d="M418.48 294.05L421.53 299.65H415.43Z" fill="#fff" stroke="#383838" stroke-width="1.0" stroke-linejoin="miter"/>
<path d="M437.14 294.35L440.19 299.95H434.09Z" fill="#fff" stroke="#383838" stroke-width="1.0" stroke-linejoin="miter"/>
<path d="M437.14 306.45L440.19 312.05H434.09Z" fill="#fff" stroke="#383838" stroke-width="1.0" stroke-linejoin="miter"/>
<path d="M446.47 300.05L449.52 305.65H443.42Z" fill="#fff" stroke="#383838" stroke-width="1.0" stroke-linejoin="miter"/>
<path d="M446.47 306.85L449.52 312.45H443.42Z" fill="#fff" stroke="#383838" stroke-width="1.0" stroke-linejoin="miter"/>
<text x="320.6" y="56.9" class="an">HIV-negative : <tspan font-style="italic">r</tspan> = 0.395 (<tspan font-style="italic">P</tspan> &lt; .001)</text>
<text x="320.6" y="70.75" class="an">HIV-1 infected : <tspan font-style="italic">r</tspan> = 0.330 (<tspan font-style="italic">P</tspan> &lt; .001)</text>
<text transform="translate(2.0 23.5) scale(1.0 1)" class="lt">A</text>
<text x="268.6" y="373.4" text-anchor="middle" class="age">Age</text>
<text transform="translate(13.6 164.85) rotate(-90)" text-anchor="middle" class="yl">TRECs per 10<tspan dy="-6" font-size="11">6</tspan><tspan dy="6"> CD4 T cells</tspan></text>
<path d="M72.5 445.0V758.0H485.8" fill="none" stroke="#6a6a6a" stroke-width="1.3"/>
<line x1="67.3" y1="743.65" x2="72.5" y2="743.65" stroke="#555" stroke-width="1.1"/>
<text transform="translate(61.8 747.95) scale(1.0 1.15)" text-anchor="end" class="tk">0</text>
<line x1="67.3" y1="699.25" x2="72.5" y2="699.25" stroke="#555" stroke-width="1.1"/>
<text transform="translate(61.8 703.55) scale(1.0 1.15)" text-anchor="end" class="tk">10000</text>
<line x1="67.3" y1="654.85" x2="72.5" y2="654.85" stroke="#555" stroke-width="1.1"/>
<text transform="translate(61.8 659.15) scale(1.0 1.15)" text-anchor="end" class="tk">20000</text>
<line x1="67.3" y1="610.45" x2="72.5" y2="610.45" stroke="#555" stroke-width="1.1"/>
<text transform="translate(61.8 614.75) scale(1.0 1.15)" text-anchor="end" class="tk">30000</text>
<line x1="67.3" y1="566.05" x2="72.5" y2="566.05" stroke="#555" stroke-width="1.1"/>
<text transform="translate(61.8 570.35) scale(1.0 1.15)" text-anchor="end" class="tk">40000</text>
<line x1="67.3" y1="521.65" x2="72.5" y2="521.65" stroke="#555" stroke-width="1.1"/>
<text transform="translate(61.8 525.95) scale(1.0 1.15)" text-anchor="end" class="tk">50000</text>
<line x1="67.3" y1="477.25" x2="72.5" y2="477.25" stroke="#555" stroke-width="1.1"/>
<text transform="translate(61.8 481.55) scale(1.0 1.15)" text-anchor="end" class="tk">60000</text>
<line x1="81.80" y1="758.0" x2="81.80" y2="762.4" stroke="#555" stroke-width="1.1"/>
<text transform="translate(81.80 779.80) scale(1.025 1.15)" text-anchor="middle" class="tk">20</text>
<line x1="175.80" y1="758.0" x2="175.80" y2="762.4" stroke="#555" stroke-width="1.1"/>
<text transform="translate(175.80 779.80) scale(1.025 1.15)" text-anchor="middle" class="tk">30</text>
<line x1="269.80" y1="758.0" x2="269.80" y2="762.4" stroke="#555" stroke-width="1.1"/>
<text transform="translate(269.80 779.80) scale(1.025 1.15)" text-anchor="middle" class="tk">40</text>
<line x1="363.80" y1="758.0" x2="363.80" y2="762.4" stroke="#555" stroke-width="1.1"/>
<text transform="translate(363.80 779.80) scale(1.025 1.15)" text-anchor="middle" class="tk">50</text>
<line x1="457.80" y1="758.0" x2="457.80" y2="762.4" stroke="#555" stroke-width="1.1"/>
<text transform="translate(457.80 779.80) scale(1.025 1.15)" text-anchor="middle" class="tk">60</text>
<line x1="72.8" y1="664.5" x2="486.8" y2="730.7" stroke="#000" stroke-width="3"/>
<line x1="72.8" y1="692.8" x2="476.5" y2="744.1" stroke="#000" stroke-width="3" stroke-dasharray="32.95 8.55"/>
<ellipse cx="81.8" cy="544.0" rx="3.2" ry="3.45" fill="#000"/>
<ellipse cx="185.2" cy="578.6" rx="3.2" ry="3.45" fill="#000"/>
<ellipse cx="316.8" cy="574.6" rx="3.2" ry="3.45" fill="#000"/>
<ellipse cx="100.6" cy="608.2" rx="3.2" ry="3.45" fill="#000"/>
<ellipse cx="81.8" cy="646.1" rx="3.2" ry="3.45" fill="#000"/>
<ellipse cx="110.0" cy="641.8" rx="3.2" ry="3.45" fill="#000"/>
<ellipse cx="110.0" cy="654.8" rx="3.2" ry="3.45" fill="#000"/>
<ellipse cx="128.8" cy="651.7" rx="3.2" ry="3.45" fill="#000"/>
<ellipse cx="138.2" cy="657.9" rx="3.2" ry="3.45" fill="#000"/>
<ellipse cx="119.4" cy="676.4" rx="3.2" ry="3.45" fill="#000"/>
<ellipse cx="91.2" cy="687.5" rx="3.2" ry="3.45" fill="#000"/>
<ellipse cx="81.8" cy="694.7" rx="3.2" ry="3.45" fill="#000"/>
<ellipse cx="81.8" cy="709.8" rx="3.2" ry="3.45" fill="#000"/>
<ellipse cx="110.0" cy="702.8" rx="3.2" ry="3.45" fill="#000"/>
<ellipse cx="119.4" cy="706.8" rx="3.2" ry="3.45" fill="#000"/>
<ellipse cx="128.8" cy="706.8" rx="3.2" ry="3.45" fill="#000"/>
<ellipse cx="119.4" cy="737.8" rx="3.2" ry="3.45" fill="#000"/>
<ellipse cx="147.6" cy="609.5" rx="3.2" ry="3.45" fill="#000"/>
<ellipse cx="147.6" cy="614.2" rx="3.2" ry="3.45" fill="#000"/>
<ellipse cx="175.8" cy="623.7" rx="3.2" ry="3.45" fill="#000"/>
<ellipse cx="166.4" cy="637.1" rx="3.2" ry="3.45" fill="#000"/>
<ellipse cx="157.0" cy="637.1" rx="3.2" ry="3.45" fill="#000"/>
<ellipse cx="157.0" cy="644.7" rx="3.2" ry="3.45" fill="#000"/>
<ellipse cx="157.0" cy="649.4" rx="3.2" ry="3.45" fill="#000"/>
<ellipse cx="185.2" cy="658.2" rx="3.2" ry="3.45" fill="#000"/>
<ellipse cx="185.2" cy="665.6" rx="3.2" ry="3.45" fill="#000"/>
<ellipse cx="204.0" cy="659.8" rx="3.2" ry="3.45" fill="#000"/>
<ellipse cx="147.6" cy="666.3" rx="3.2" ry="3.45" fill="#000"/>
<ellipse cx="157.0" cy="674.3" rx="3.2" ry="3.45" fill="#000"/>
<ellipse cx="175.8" cy="680.8" rx="3.2" ry="3.45" fill="#000"/>
<ellipse cx="175.8" cy="685.1" rx="3.2" ry="3.45" fill="#000"/>
<ellipse cx="175.8" cy="689.0" rx="3.2" ry="3.45" fill="#000"/>
<ellipse cx="147.6" cy="688.5" rx="3.2" ry="3.45" fill="#000"/>
<ellipse cx="166.4" cy="690.5" rx="3.2" ry="3.45" fill="#000"/>
<ellipse cx="147.6" cy="698.1" rx="3.2" ry="3.45" fill="#000"/>
<ellipse cx="147.6" cy="705.5" rx="3.2" ry="3.45" fill="#000"/>
<ellipse cx="147.6" cy="712.9" rx="3.2" ry="3.45" fill="#000"/>
<ellipse cx="157.0" cy="697.4" rx="3.2" ry="3.45" fill="#000"/>
<ellipse cx="166.4" cy="721.0" rx="3.2" ry="3.45" fill="#000"/>
<ellipse cx="175.8" cy="697.4" rx="3.2" ry="3.45" fill="#000"/>
<ellipse cx="175.8" cy="702.8" rx="3.2" ry="3.45" fill="#000"/>
<ellipse cx="185.2" cy="700.8" rx="3.2" ry="3.45" fill="#000"/>
<ellipse cx="185.2" cy="708.2" rx="3.2" ry="3.45" fill="#000"/>
<ellipse cx="185.2" cy="716.0" rx="3.2" ry="3.45" fill="#000"/>
<ellipse cx="194.6" cy="722.7" rx="3.2" ry="3.45" fill="#000"/>
<ellipse cx="204.0" cy="707.5" rx="3.2" ry="3.45" fill="#000"/>
<ellipse cx="269.8" cy="628.1" rx="3.2" ry="3.45" fill="#000"/>
<ellipse cx="213.4" cy="658.5" rx="3.2" ry="3.45" fill="#000"/>
<ellipse cx="251.0" cy="650.4" rx="3.2" ry="3.45" fill="#000"/>
<ellipse cx="251.0" cy="654.8" rx="3.2" ry="3.45" fill="#000"/>
<ellipse cx="269.8" cy="680.4" rx="3.2" ry="3.45" fill="#000"/>
<ellipse cx="251.0" cy="689.8" rx="3.2" ry="3.45" fill="#000"/>
<ellipse cx="232.2" cy="691.5" rx="3.2" ry="3.45" fill="#000"/>
<ellipse cx="232.2" cy="718.3" rx="3.2" ry="3.45" fill="#000"/>
<ellipse cx="232.2" cy="738.5" rx="3.2" ry="3.45" fill="#000"/>
<ellipse cx="241.6" cy="724.3" rx="3.2" ry="3.45" fill="#000"/>
<ellipse cx="251.0" cy="704.8" rx="3.2" ry="3.45" fill="#000"/>
<ellipse cx="251.0" cy="706.8" rx="3.2" ry="3.45" fill="#000"/>
<ellipse cx="260.4" cy="713.8" rx="3.2" ry="3.45" fill="#000"/>
<ellipse cx="269.8" cy="711.6" rx="3.2" ry="3.45" fill="#000"/>
<ellipse cx="269.8" cy="720.3" rx="3.2" ry="3.45" fill="#000"/>
<ellipse cx="269.8" cy="733.1" rx="3.2" ry="3.45" fill="#000"/>
<ellipse cx="269.8" cy="737.0" rx="3.2" ry="3.45" fill="#000"/>
<ellipse cx="298.0" cy="675.4" rx="3.2" ry="3.45" fill="#000"/>
<ellipse cx="279.2" cy="681.7" rx="3.2" ry="3.45" fill="#000"/>
<ellipse cx="326.2" cy="666.9" rx="3.2" ry="3.45" fill="#000"/>
<ellipse cx="326.2" cy="670.3" rx="3.2" ry="3.45" fill="#000"/>
<ellipse cx="326.2" cy="682.4" rx="3.2" ry="3.45" fill="#000"/>
<ellipse cx="335.6" cy="679.0" rx="3.2" ry="3.45" fill="#000"/>
<ellipse cx="279.2" cy="727.0" rx="3.2" ry="3.45" fill="#000"/>
<ellipse cx="279.2" cy="733.8" rx="3.2" ry="3.45" fill="#000"/>
<ellipse cx="288.6" cy="704.4" rx="3.2" ry="3.45" fill="#000"/>
<ellipse cx="288.6" cy="729.0" rx="3.2" ry="3.45" fill="#000"/>
<ellipse cx="288.6" cy="733.1" rx="3.2" ry="3.45" fill="#000"/>
<ellipse cx="298.0" cy="738.5" rx="3.2" ry="3.45" fill="#000"/>
<ellipse cx="326.2" cy="714.9" rx="3.2" ry="3.45" fill="#000"/>
<ellipse cx="326.2" cy="729.0" rx="3.2" ry="3.45" fill="#000"/>
<ellipse cx="345.0" cy="676.4" rx="3.2" ry="3.45" fill="#000"/>
<ellipse cx="392.0" cy="661.1" rx="3.2" ry="3.45" fill="#000"/>
<ellipse cx="354.4" cy="692.8" rx="3.2" ry="3.45" fill="#000"/>
<ellipse cx="401.4" cy="689.0" rx="3.2" ry="3.45" fill="#000"/>
<ellipse cx="345.0" cy="721.0" rx="3.2" ry="3.45" fill="#000"/>
<ellipse cx="345.0" cy="731.1" rx="3.2" ry="3.45" fill="#000"/>
<ellipse cx="363.8" cy="703.9" rx="3.2" ry="3.45" fill="#000"/>
<ellipse cx="363.8" cy="734.2" rx="3.2" ry="3.45" fill="#000"/>
<ellipse cx="363.8" cy="737.0" rx="3.2" ry="3.45" fill="#000"/>
<ellipse cx="382.6" cy="731.1" rx="3.2" ry="3.45" fill="#000"/>
<ellipse cx="392.0" cy="737.8" rx="3.2" ry="3.45" fill="#000"/>
<ellipse cx="420.2" cy="646.1" rx="3.2" ry="3.45" fill="#000"/>
<ellipse cx="429.6" cy="679.0" rx="3.2" ry="3.45" fill="#000"/>
<ellipse cx="410.8" cy="703.5" rx="3.2" ry="3.45" fill="#000"/>
<ellipse cx="448.4" cy="721.0" rx="3.2" ry="3.45" fill="#000"/>
<ellipse cx="410.8" cy="731.1" rx="3.2" ry="3.45" fill="#000"/>
<ellipse cx="410.8" cy="733.8" rx="3.2" ry="3.45" fill="#000"/>
<ellipse cx="420.2" cy="731.1" rx="3.2" ry="3.45" fill="#000"/>
<ellipse cx="429.6" cy="738.5" rx="3.2" ry="3.45" fill="#000"/>
<path d="M110.0 455.65L113.05 461.25H106.95Z" fill="#fff" stroke="#383838" stroke-width="1.0" stroke-linejoin="miter"/>
<path d="M166.4 473.45L169.45 479.05H163.35Z" fill="#fff" stroke="#383838" stroke-width="1.0" stroke-linejoin="miter"/>
<path d="M110.0 571.05L113.05 576.65H106.95Z" fill="#fff" stroke="#383838" stroke-width="1.0" stroke-linejoin="miter"/>
<path d="M175.8 528.65L178.85 534.25H172.75Z" fill="#fff" stroke="#383838" stroke-width="1.0" stroke-linejoin="miter"/>
<path d="M110.0 633.25L113.05 638.85H106.95Z" fill="#fff" stroke="#383838" stroke-width="1.0" stroke-linejoin="miter"/>
<path d="M119.4 633.55L122.45 639.15H116.35Z" fill="#fff" stroke="#383838" stroke-width="1.0" stroke-linejoin="miter"/>
<path d="M138.2 651.45L141.25 657.05H135.15Z" fill="#fff" stroke="#383838" stroke-width="1.0" stroke-linejoin="miter"/>
<path d="M91.2 669.35L94.25 674.95H88.15Z" fill="#fff" stroke="#383838" stroke-width="1.0" stroke-linejoin="miter"/>
<path d="M100.6 676.75L103.65 682.35H97.55Z" fill="#fff" stroke="#383838" stroke-width="1.0" stroke-linejoin="miter"/>
<path d="M128.8 669.35L131.85 674.95H125.75Z" fill="#fff" stroke="#383838" stroke-width="1.0" stroke-linejoin="miter"/>
<path d="M138.2 676.75L141.25 682.35H135.15Z" fill="#fff" stroke="#383838" stroke-width="1.0" stroke-linejoin="miter"/>
<path d="M119.4 692.45L122.45 698.05H116.35Z" fill="#fff" stroke="#383838" stroke-width="1.0" stroke-linejoin="miter"/>
<path d="M110.0 701.25L113.05 706.85H106.95Z" fill="#fff" stroke="#383838" stroke-width="1.0" stroke-linejoin="miter"/>
<path d="M119.4 702.55L122.45 708.15H116.35Z" fill="#fff" stroke="#383838" stroke-width="1.0" stroke-linejoin="miter"/>
<path d="M128.8 705.25L131.85 710.85H125.75Z" fill="#fff" stroke="#383838" stroke-width="1.0" stroke-linejoin="miter"/>
<path d="M128.8 709.25L131.85 714.85H125.75Z" fill="#fff" stroke="#383838" stroke-width="1.0" stroke-linejoin="miter"/>
<path d="M81.8 730.85L84.85 736.45H78.75Z" fill="#fff" stroke="#383838" stroke-width="1.0" stroke-linejoin="miter"/>
<path d="M91.2 726.75L94.25 732.35H88.15Z" fill="#fff" stroke="#383838" stroke-width="1.0" stroke-linejoin="miter"/>
<path d="M100.6 724.75L103.65 730.35H97.55Z" fill="#fff" stroke="#383838" stroke-width="1.0" stroke-linejoin="miter"/>
<path d="M110.0 723.45L113.05 729.05H106.95Z" fill="#fff" stroke="#383838" stroke-width="1.0" stroke-linejoin="miter"/>
<path d="M110.0 728.75L113.05 734.35H106.95Z" fill="#fff" stroke="#383838" stroke-width="1.0" stroke-linejoin="miter"/>
<path d="M110.0 731.45L113.05 737.05H106.95Z" fill="#fff" stroke="#383838" stroke-width="1.0" stroke-linejoin="miter"/>
<path d="M110.0 735.55L113.05 741.15H106.95Z" fill="#fff" stroke="#383838" stroke-width="1.0" stroke-linejoin="miter"/>
<path d="M119.4 730.15L122.45 735.75H116.35Z" fill="#fff" stroke="#383838" stroke-width="1.0" stroke-linejoin="miter"/>
<path d="M119.4 738.85L122.45 744.45H116.35Z" fill="#fff" stroke="#383838" stroke-width="1.0" stroke-linejoin="miter"/>
<path d="M138.2 719.35L141.25 724.95H135.15Z" fill="#fff" stroke="#383838" stroke-width="1.0" stroke-linejoin="miter"/>
<path d="M138.2 724.05L141.25 729.65H135.15Z" fill="#fff" stroke="#383838" stroke-width="1.0" stroke-linejoin="miter"/>
<path d="M138.2 728.15L141.25 733.75H135.15Z" fill="#fff" stroke="#383838" stroke-width="1.0" stroke-linejoin="miter"/>
<path d="M138.2 732.15L141.25 737.75H135.15Z" fill="#fff" stroke="#383838" stroke-width="1.0" stroke-linejoin="miter"/>
<path d="M185.2 593.75L188.25 599.35H182.15Z" fill="#fff" stroke="#383838" stroke-width="1.0" stroke-linejoin="miter"/>
<path d="M147.6 624.75L150.65 630.35H144.55Z" fill="#fff" stroke="#383838" stroke-width="1.0" stroke-linejoin="miter"/>
<path d="M166.4 628.75L169.45 634.35H163.35Z" fill="#fff" stroke="#383838" stroke-width="1.0" stroke-linejoin="miter"/>
<path d="M204.0 626.75L207.05 632.35H200.95Z" fill="#fff" stroke="#383838" stroke-width="1.0" stroke-linejoin="miter"/>
<path d="M166.4 642.45L169.45 648.05H163.35Z" fill="#fff" stroke="#383838" stroke-width="1.0" stroke-linejoin="miter"/>
<path d="M185.2 642.45L188.25 648.05H182.15Z" fill="#fff" stroke="#383838" stroke-width="1.0" stroke-linejoin="miter"/>
<path d="M147.6 655.55L150.65 661.15H144.55Z" fill="#fff" stroke="#383838" stroke-width="1.0" stroke-linejoin="miter"/>
<path d="M157.0 655.55L160.05 661.15H153.95Z" fill="#fff" stroke="#383838" stroke-width="1.0" stroke-linejoin="miter"/>
<path d="M147.6 668.05L150.65 673.65H144.55Z" fill="#fff" stroke="#383838" stroke-width="1.0" stroke-linejoin="miter"/>
<path d="M157.0 672.75L160.05 678.35H153.95Z" fill="#fff" stroke="#383838" stroke-width="1.0" stroke-linejoin="miter"/>
<path d="M166.4 675.45L169.45 681.05H163.35Z" fill="#fff" stroke="#383838" stroke-width="1.0" stroke-linejoin="miter"/>
<path d="M175.8 686.85L178.85 692.45H172.75Z" fill="#fff" stroke="#383838" stroke-width="1.0" stroke-linejoin="miter"/>
<path d="M204.0 677.85L207.05 683.45H200.95Z" fill="#fff" stroke="#383838" stroke-width="1.0" stroke-linejoin="miter"/>
<path d="M204.0 685.55L207.05 691.15H200.95Z" fill="#fff" stroke="#383838" stroke-width="1.0" stroke-linejoin="miter"/>
<path d="M147.6 686.85L150.65 692.45H144.55Z" fill="#fff" stroke="#383838" stroke-width="1.0" stroke-linejoin="miter"/>
<path d="M157.0 680.85L160.05 686.45H153.95Z" fill="#fff" stroke="#383838" stroke-width="1.0" stroke-linejoin="miter"/>
<path d="M157.0 684.15L160.05 689.75H153.95Z" fill="#fff" stroke="#383838" stroke-width="1.0" stroke-linejoin="miter"/>
<path d="M166.4 689.05L169.45 694.65H163.35Z" fill="#fff" stroke="#383838" stroke-width="1.0" stroke-linejoin="miter"/>
<path d="M147.6 728.75L150.65 734.35H144.55Z" fill="#fff" stroke="#383838" stroke-width="1.0" stroke-linejoin="miter"/>
<path d="M147.6 734.85L150.65 740.45H144.55Z" fill="#fff" stroke="#383838" stroke-width="1.0" stroke-linejoin="miter"/>
<path d="M157.0 704.25L160.05 709.85H153.95Z" fill="#fff" stroke="#383838" stroke-width="1.0" stroke-linejoin="miter"/>
<path d="M157.0 708.25L160.05 713.85H153.95Z" fill="#fff" stroke="#383838" stroke-width="1.0" stroke-linejoin="miter"/>
<path d="M157.0 712.85L160.05 718.45H153.95Z" fill="#fff" stroke="#383838" stroke-width="1.0" stroke-linejoin="miter"/>
<path d="M157.0 716.75L160.05 722.35H153.95Z" fill="#fff" stroke="#383838" stroke-width="1.0" stroke-linejoin="miter"/>
<path d="M157.0 720.95L160.05 726.55H153.95Z" fill="#fff" stroke="#383838" stroke-width="1.0" stroke-linejoin="miter"/>
<path d="M157.0 725.55L160.05 731.15H153.95Z" fill="#fff" stroke="#383838" stroke-width="1.0" stroke-linejoin="miter"/>
<path d="M157.0 730.15L160.05 735.75H153.95Z" fill="#fff" stroke="#383838" stroke-width="1.0" stroke-linejoin="miter"/>
<path d="M157.0 734.75L160.05 740.35H153.95Z" fill="#fff" stroke="#383838" stroke-width="1.0" stroke-linejoin="miter"/>
<path d="M157.0 738.95L160.05 744.55H153.95Z" fill="#fff" stroke="#383838" stroke-width="1.0" stroke-linejoin="miter"/>
<path d="M166.4 695.15L169.45 700.75H163.35Z" fill="#fff" stroke="#383838" stroke-width="1.0" stroke-linejoin="miter"/>
<path d="M166.4 698.55L169.45 704.15H163.35Z" fill="#fff" stroke="#383838" stroke-width="1.0" stroke-linejoin="miter"/>
<path d="M166.4 710.65L169.45 716.25H163.35Z" fill="#fff" stroke="#383838" stroke-width="1.0" stroke-linejoin="miter"/>
<path d="M166.4 716.05L169.45 721.65H163.35Z" fill="#fff" stroke="#383838" stroke-width="1.0" stroke-linejoin="miter"/>
<path d="M166.4 723.45L169.45 729.05H163.35Z" fill="#fff" stroke="#383838" stroke-width="1.0" stroke-linejoin="miter"/>
<path d="M166.4 732.85L169.45 738.45H163.35Z" fill="#fff" stroke="#383838" stroke-width="1.0" stroke-linejoin="miter"/>
<path d="M166.4 738.25L169.45 743.85H163.35Z" fill="#fff" stroke="#383838" stroke-width="1.0" stroke-linejoin="miter"/>
<path d="M175.8 703.85L178.85 709.45H172.75Z" fill="#fff" stroke="#383838" stroke-width="1.0" stroke-linejoin="miter"/>
<path d="M175.8 712.65L178.85 718.25H172.75Z" fill="#fff" stroke="#383838" stroke-width="1.0" stroke-linejoin="miter"/>
<path d="M175.8 728.15L178.85 733.75H172.75Z" fill="#fff" stroke="#383838" stroke-width="1.0" stroke-linejoin="miter"/>
<path d="M175.8 739.55L178.85 745.15H172.75Z" fill="#fff" stroke="#383838" stroke-width="1.0" stroke-linejoin="miter"/>
<path d="M185.2 715.05L188.25 720.65H182.15Z" fill="#fff" stroke="#383838" stroke-width="1.0" stroke-linejoin="miter"/>
<path d="M185.2 726.75L188.25 732.35H182.15Z" fill="#fff" stroke="#383838" stroke-width="1.0" stroke-linejoin="miter"/>
<path d="M185.2 738.85L188.25 744.45H182.15Z" fill="#fff" stroke="#383838" stroke-width="1.0" stroke-linejoin="miter"/>
<path d="M194.6 714.65L197.65 720.25H191.55Z" fill="#fff" stroke="#383838" stroke-width="1.0" stroke-linejoin="miter"/>
<path d="M194.6 725.45L197.65 731.05H191.55Z" fill="#fff" stroke="#383838" stroke-width="1.0" stroke-linejoin="miter"/>
<path d="M194.6 730.85L197.65 736.45H191.55Z" fill="#fff" stroke="#383838" stroke-width="1.0" stroke-linejoin="miter"/>
<path d="M194.6 736.15L197.65 741.75H191.55Z" fill="#fff" stroke="#383838" stroke-width="1.0" stroke-linejoin="miter"/>
<path d="M194.6 740.25L197.65 745.85H191.55Z" fill="#fff" stroke="#383838" stroke-width="1.0" stroke-linejoin="miter"/>
<path d="M204.0 694.45L207.05 700.05H200.95Z" fill="#fff" stroke="#383838" stroke-width="1.0" stroke-linejoin="miter"/>
<path d="M204.0 697.85L207.05 703.45H200.95Z" fill="#fff" stroke="#383838" stroke-width="1.0" stroke-linejoin="miter"/>
<path d="M204.0 712.65L207.05 718.25H200.95Z" fill="#fff" stroke="#383838" stroke-width="1.0" stroke-linejoin="miter"/>
<path d="M204.0 718.05L207.05 723.65H200.95Z" fill="#fff" stroke="#383838" stroke-width="1.0" stroke-linejoin="miter"/>
<path d="M204.0 722.75L207.05 728.35H200.95Z" fill="#fff" stroke="#383838" stroke-width="1.0" stroke-linejoin="miter"/>
<path d="M204.0 726.75L207.05 732.35H200.95Z" fill="#fff" stroke="#383838" stroke-width="1.0" stroke-linejoin="miter"/>
<path d="M204.0 731.45L207.05 737.05H200.95Z" fill="#fff" stroke="#383838" stroke-width="1.0" stroke-linejoin="miter"/>
<path d="M204.0 734.85L207.05 740.45H200.95Z" fill="#fff" stroke="#383838" stroke-width="1.0" stroke-linejoin="miter"/>
<path d="M222.8 638.05L225.85 643.65H219.75Z" fill="#fff" stroke="#383838" stroke-width="1.0" stroke-linejoin="miter"/>
<path d="M232.2 669.75L235.25 675.35H229.15Z" fill="#fff" stroke="#383838" stroke-width="1.0" stroke-linejoin="miter"/>
<path d="M269.8 685.55L272.85 691.15H266.75Z" fill="#fff" stroke="#383838" stroke-width="1.0" stroke-linejoin="miter"/>
<path d="M241.6 687.55L244.65 693.15H238.55Z" fill="#fff" stroke="#383838" stroke-width="1.0" stroke-linejoin="miter"/>
<path d="M222.8 688.85L225.85 694.45H219.75Z" fill="#fff" stroke="#383838" stroke-width="1.0" stroke-linejoin="miter"/>
<path d="M213.4 701.85L216.45 707.45H210.35Z" fill="#fff" stroke="#383838" stroke-width="1.0" stroke-linejoin="miter"/>
<path d="M213.4 724.75L216.45 730.35H210.35Z" fill="#fff" stroke="#383838" stroke-width="1.0" stroke-linejoin="miter"/>
<path d="M213.4 739.55L216.45 745.15H210.35Z" fill="#fff" stroke="#383838" stroke-width="1.0" stroke-linejoin="miter"/>
<path d="M222.8 708.65L225.85 714.25H219.75Z" fill="#fff" stroke="#383838" stroke-width="1.0" stroke-linejoin="miter"/>
<path d="M222.8 713.95L225.85 719.55H219.75Z" fill="#fff" stroke="#383838" stroke-width="1.0" stroke-linejoin="miter"/>
<path d="M222.8 716.65L225.85 722.25H219.75Z" fill="#fff" stroke="#383838" stroke-width="1.0" stroke-linejoin="miter"/>
<path d="M222.8 720.35L225.85 725.95H219.75Z" fill="#fff" stroke="#383838" stroke-width="1.0" stroke-linejoin="miter"/>
<path d="M222.8 739.55L225.85 745.15H219.75Z" fill="#fff" stroke="#383838" stroke-width="1.0" stroke-linejoin="miter"/>
<path d="M232.2 717.35L235.25 722.95H229.15Z" fill="#fff" stroke="#383838" stroke-width="1.0" stroke-linejoin="miter"/>
<path d="M232.2 721.35L235.25 726.95H229.15Z" fill="#fff" stroke="#383838" stroke-width="1.0" stroke-linejoin="miter"/>
<path d="M232.2 724.75L235.25 730.35H229.15Z" fill="#fff" stroke="#383838" stroke-width="1.0" stroke-linejoin="miter"/>
<path d="M232.2 728.15L235.25 733.75H229.15Z" fill="#fff" stroke="#383838" stroke-width="1.0" stroke-linejoin="miter"/>
<path d="M232.2 738.25L235.25 743.85H229.15Z" fill="#fff" stroke="#383838" stroke-width="1.0" stroke-linejoin="miter"/>
<path d="M241.6 706.55L244.65 712.15H238.55Z" fill="#fff" stroke="#383838" stroke-width="1.0" stroke-linejoin="miter"/>
<path d="M241.6 725.45L244.65 731.05H238.55Z" fill="#fff" stroke="#383838" stroke-width="1.0" stroke-linejoin="miter"/>
<path d="M241.6 729.45L244.65 735.05H238.55Z" fill="#fff" stroke="#383838" stroke-width="1.0" stroke-linejoin="miter"/>
<path d="M241.6 732.85L244.65 738.45H238.55Z" fill="#fff" stroke="#383838" stroke-width="1.0" stroke-linejoin="miter"/>
<path d="M241.6 736.85L244.65 742.45H238.55Z" fill="#fff" stroke="#383838" stroke-width="1.0" stroke-linejoin="miter"/>
<path d="M241.6 740.25L244.65 745.85H238.55Z" fill="#fff" stroke="#383838" stroke-width="1.0" stroke-linejoin="miter"/>
<path d="M251.0 712.65L254.05 718.25H247.95Z" fill="#fff" stroke="#383838" stroke-width="1.0" stroke-linejoin="miter"/>
<path d="M251.0 735.55L254.05 741.15H247.95Z" fill="#fff" stroke="#383838" stroke-width="1.0" stroke-linejoin="miter"/>
<path d="M251.0 739.55L254.05 745.15H247.95Z" fill="#fff" stroke="#383838" stroke-width="1.0" stroke-linejoin="miter"/>
<path d="M260.4 725.45L263.45 731.05H257.35Z" fill="#fff" stroke="#383838" stroke-width="1.0" stroke-linejoin="miter"/>
<path d="M260.4 738.25L263.45 743.85H257.35Z" fill="#fff" stroke="#383838" stroke-width="1.0" stroke-linejoin="miter"/>
<path d="M269.8 697.85L272.85 703.45H266.75Z" fill="#fff" stroke="#383838" stroke-width="1.0" stroke-linejoin="miter"/>
<path d="M269.8 703.85L272.85 709.45H266.75Z" fill="#fff" stroke="#383838" stroke-width="1.0" stroke-linejoin="miter"/>
<path d="M269.8 721.35L272.85 726.95H266.75Z" fill="#fff" stroke="#383838" stroke-width="1.0" stroke-linejoin="miter"/>
<path d="M269.8 730.15L272.85 735.75H266.75Z" fill="#fff" stroke="#383838" stroke-width="1.0" stroke-linejoin="miter"/>
<path d="M269.8 738.25L272.85 743.85H266.75Z" fill="#fff" stroke="#383838" stroke-width="1.0" stroke-linejoin="miter"/>
<path d="M288.6 642.45L291.65 648.05H285.55Z" fill="#fff" stroke="#383838" stroke-width="1.0" stroke-linejoin="miter"/>
<path d="M288.6 656.55L291.65 662.15H285.55Z" fill="#fff" stroke="#383838" stroke-width="1.0" stroke-linejoin="miter"/>
<path d="M307.4 664.65L310.45 670.25H304.35Z" fill="#fff" stroke="#383838" stroke-width="1.0" stroke-linejoin="miter"/>
<path d="M279.2 674.75L282.25 680.35H276.15Z" fill="#fff" stroke="#383838" stroke-width="1.0" stroke-linejoin="miter"/>
<path d="M335.6 651.45L338.65 657.05H332.55Z" fill="#fff" stroke="#383838" stroke-width="1.0" stroke-linejoin="miter"/>
<path d="M279.2 691.15L282.25 696.75H276.15Z" fill="#fff" stroke="#383838" stroke-width="1.0" stroke-linejoin="miter"/>
<path d="M279.2 711.95L282.25 717.55H276.15Z" fill="#fff" stroke="#383838" stroke-width="1.0" stroke-linejoin="miter"/>
<path d="M279.2 720.05L282.25 725.65H276.15Z" fill="#fff" stroke="#383838" stroke-width="1.0" stroke-linejoin="miter"/>
<path d="M279.2 728.15L282.25 733.75H276.15Z" fill="#fff" stroke="#383838" stroke-width="1.0" stroke-linejoin="miter"/>
<path d="M279.2 734.15L282.25 739.75H276.15Z" fill="#fff" stroke="#383838" stroke-width="1.0" stroke-linejoin="miter"/>
<path d="M288.6 722.05L291.65 727.65H285.55Z" fill="#fff" stroke="#383838" stroke-width="1.0" stroke-linejoin="miter"/>
<path d="M288.6 740.25L291.65 745.85H285.55Z" fill="#fff" stroke="#383838" stroke-width="1.0" stroke-linejoin="miter"/>
<path d="M298.0 705.95L301.05 711.55H294.95Z" fill="#fff" stroke="#383838" stroke-width="1.0" stroke-linejoin="miter"/>
<path d="M298.0 722.05L301.05 727.65H294.95Z" fill="#fff" stroke="#383838" stroke-width="1.0" stroke-linejoin="miter"/>
<path d="M298.0 728.75L301.05 734.35H294.95Z" fill="#fff" stroke="#383838" stroke-width="1.0" stroke-linejoin="miter"/>
<path d="M298.0 735.55L301.05 741.15H294.95Z" fill="#fff" stroke="#383838" stroke-width="1.0" stroke-linejoin="miter"/>
<path d="M298.0 738.25L301.05 743.85H294.95Z" fill="#fff" stroke="#383838" stroke-width="1.0" stroke-linejoin="miter"/>
<path d="M307.4 739.55L310.45 745.15H304.35Z" fill="#fff" stroke="#383838" stroke-width="1.0" stroke-linejoin="miter"/>
<path d="M316.8 695.15L319.85 700.75H313.75Z" fill="#fff" stroke="#383838" stroke-width="1.0" stroke-linejoin="miter"/>
<path d="M316.8 724.05L319.85 729.65H313.75Z" fill="#fff" stroke="#383838" stroke-width="1.0" stroke-linejoin="miter"/>
<path d="M316.8 728.15L319.85 733.75H313.75Z" fill="#fff" stroke="#383838" stroke-width="1.0" stroke-linejoin="miter"/>
<path d="M316.8 732.15L319.85 737.75H313.75Z" fill="#fff" stroke="#383838" stroke-width="1.0" stroke-linejoin="miter"/>
<path d="M316.8 740.25L319.85 745.85H313.75Z" fill="#fff" stroke="#383838" stroke-width="1.0" stroke-linejoin="miter"/>
<path d="M326.2 705.95L329.25 711.55H323.15Z" fill="#fff" stroke="#383838" stroke-width="1.0" stroke-linejoin="miter"/>
<path d="M326.2 720.75L329.25 726.35H323.15Z" fill="#fff" stroke="#383838" stroke-width="1.0" stroke-linejoin="miter"/>
<path d="M326.2 728.15L329.25 733.75H323.15Z" fill="#fff" stroke="#383838" stroke-width="1.0" stroke-linejoin="miter"/>
<path d="M335.6 730.85L338.65 736.45H332.55Z" fill="#fff" stroke="#383838" stroke-width="1.0" stroke-linejoin="miter"/>
<path d="M335.6 735.55L338.65 741.15H332.55Z" fill="#fff" stroke="#383838" stroke-width="1.0" stroke-linejoin="miter"/>
<path d="M335.6 740.25L338.65 745.85H332.55Z" fill="#fff" stroke="#383838" stroke-width="1.0" stroke-linejoin="miter"/>
<path d="M363.8 661.95L366.85 667.55H360.75Z" fill="#fff" stroke="#383838" stroke-width="1.0" stroke-linejoin="miter"/>
<path d="M401.4 654.15L404.45 659.75H398.35Z" fill="#fff" stroke="#383838" stroke-width="1.0" stroke-linejoin="miter"/>
<path d="M392.0 682.85L395.05 688.45H388.95Z" fill="#fff" stroke="#383838" stroke-width="1.0" stroke-linejoin="miter"/>
<path d="M354.4 689.55L357.45 695.15H351.35Z" fill="#fff" stroke="#383838" stroke-width="1.0" stroke-linejoin="miter"/>
<path d="M401.4 686.85L404.45 692.45H398.35Z" fill="#fff" stroke="#383838" stroke-width="1.0" stroke-linejoin="miter"/>
<path d="M345.0 704.55L348.05 710.15H341.95Z" fill="#fff" stroke="#383838" stroke-width="1.0" stroke-linejoin="miter"/>
<path d="M345.0 723.45L348.05 729.05H341.95Z" fill="#fff" stroke="#383838" stroke-width="1.0" stroke-linejoin="miter"/>
<path d="M345.0 733.55L348.05 739.15H341.95Z" fill="#fff" stroke="#383838" stroke-width="1.0" stroke-linejoin="miter"/>
<path d="M345.0 736.85L348.05 742.45H341.95Z" fill="#fff" stroke="#383838" stroke-width="1.0" stroke-linejoin="miter"/>
<path d="M345.0 739.55L348.05 745.15H341.95Z" fill="#fff" stroke="#383838" stroke-width="1.0" stroke-linejoin="miter"/>
<path d="M354.4 707.65L357.45 713.25H351.35Z" fill="#fff" stroke="#383838" stroke-width="1.0" stroke-linejoin="miter"/>
<path d="M354.4 731.45L357.45 737.05H351.35Z" fill="#fff" stroke="#383838" stroke-width="1.0" stroke-linejoin="miter"/>
<path d="M363.8 722.75L366.85 728.35H360.75Z" fill="#fff" stroke="#383838" stroke-width="1.0" stroke-linejoin="miter"/>
<path d="M363.8 738.25L366.85 743.85H360.75Z" fill="#fff" stroke="#383838" stroke-width="1.0" stroke-linejoin="miter"/>
<path d="M373.2 736.15L376.25 741.75H370.15Z" fill="#fff" stroke="#383838" stroke-width="1.0" stroke-linejoin="miter"/>
<path d="M382.6 736.85L385.65 742.45H379.55Z" fill="#fff" stroke="#383838" stroke-width="1.0" stroke-linejoin="miter"/>
<path d="M382.6 739.55L385.65 745.15H379.55Z" fill="#fff" stroke="#383838" stroke-width="1.0" stroke-linejoin="miter"/>
<path d="M392.0 728.15L395.05 733.75H388.95Z" fill="#fff" stroke="#383838" stroke-width="1.0" stroke-linejoin="miter"/>
<path d="M392.0 732.85L395.05 738.45H388.95Z" fill="#fff" stroke="#383838" stroke-width="1.0" stroke-linejoin="miter"/>
<path d="M392.0 739.55L395.05 745.15H388.95Z" fill="#fff" stroke="#383838" stroke-width="1.0" stroke-linejoin="miter"/>
<path d="M401.4 709.95L404.45 715.55H398.35Z" fill="#fff" stroke="#383838" stroke-width="1.0" stroke-linejoin="miter"/>
<path d="M401.4 732.85L404.45 738.45H398.35Z" fill="#fff" stroke="#383838" stroke-width="1.0" stroke-linejoin="miter"/>
<path d="M401.4 736.15L404.45 741.75H398.35Z" fill="#fff" stroke="#383838" stroke-width="1.0" stroke-linejoin="miter"/>
<path d="M401.4 739.55L404.45 745.15H398.35Z" fill="#fff" stroke="#383838" stroke-width="1.0" stroke-linejoin="miter"/>
<path d="M420.2 696.05L423.25 701.65H417.15Z" fill="#fff" stroke="#383838" stroke-width="1.0" stroke-linejoin="miter"/>
<path d="M429.6 720.75L432.65 726.35H426.55Z" fill="#fff" stroke="#383838" stroke-width="1.0" stroke-linejoin="miter"/>
<path d="M448.4 719.75L451.45 725.35H445.35Z" fill="#fff" stroke="#383838" stroke-width="1.0" stroke-linejoin="miter"/>
<path d="M410.8 738.85L413.85 744.45H407.75Z" fill="#fff" stroke="#383838" stroke-width="1.0" stroke-linejoin="miter"/>
<path d="M420.2 732.15L423.25 737.75H417.15Z" fill="#fff" stroke="#383838" stroke-width="1.0" stroke-linejoin="miter"/>
<path d="M420.2 738.85L423.25 744.45H417.15Z" fill="#fff" stroke="#383838" stroke-width="1.0" stroke-linejoin="miter"/>
<path d="M439.0 731.45L442.05 737.05H435.95Z" fill="#fff" stroke="#383838" stroke-width="1.0" stroke-linejoin="miter"/>
<path d="M439.0 736.15L442.05 741.75H435.95Z" fill="#fff" stroke="#383838" stroke-width="1.0" stroke-linejoin="miter"/>
<path d="M439.0 740.25L442.05 745.85H435.95Z" fill="#fff" stroke="#383838" stroke-width="1.0" stroke-linejoin="miter"/>
<path d="M448.4 740.25L451.45 745.85H445.35Z" fill="#fff" stroke="#383838" stroke-width="1.0" stroke-linejoin="miter"/>
<text x="332.5" y="498.8" class="an">HIV-negative : <tspan font-style="italic">r</tspan> = 0.414 (<tspan font-style="italic">P</tspan> &lt; .001)</text>
<text x="332.5" y="512.65" class="an">HIV-1 infected: <tspan font-style="italic">r</tspan> = 0.293 (<tspan font-style="italic">P</tspan> &lt; .001)</text>
<text transform="translate(-0.4 459.6) scale(0.93 1)" class="lt">B</text>
<text x="268.6" y="811.4" text-anchor="middle" class="age">Age</text>
<text transform="translate(13.6 601.6) rotate(-90)" text-anchor="middle" class="yl">TRECs per 10<tspan dy="-6" font-size="11">6</tspan><tspan dy="6"> CD8 T cells</tspan></text>
<circle cx="149.8" cy="400.2" r="3.9" fill="#000"/>
<line x1="139" y1="411.3" x2="160.9" y2="411.3" stroke="#000" stroke-width="2"/>
<text x="166.3" y="407.6" class="lg">HIV-negative</text>
<path d="M294.8 396.2L298.2 402.8H291.4Z" fill="none" stroke="#222" stroke-width="1.2"/>
<line x1="283.9" y1="411.5" x2="305" y2="411.5" stroke="#000" stroke-width="2" stroke-dasharray="1.9 1.45"/>
<text x="308.1" y="407.6" class="lg">HIV-1 infected</text>
</svg>
</body></html>
